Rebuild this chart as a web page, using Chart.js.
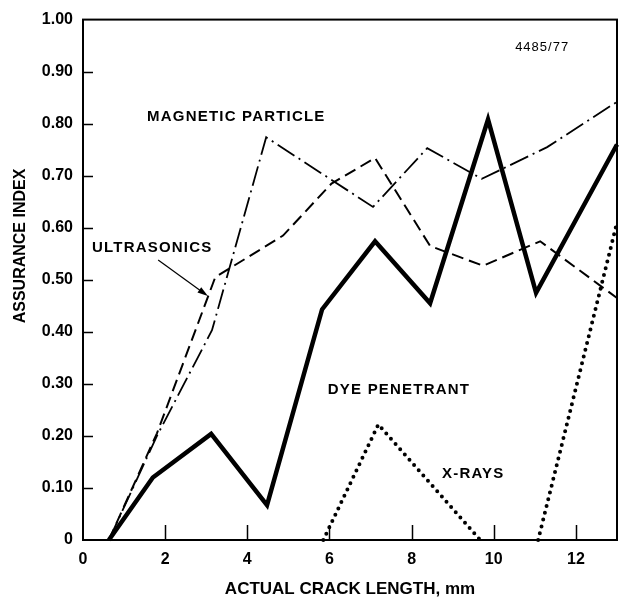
<!DOCTYPE html>
<html>
<head>
<meta charset="utf-8">
<script src="https://cdn.jsdelivr.net/npm/chart.js@4.4.0/dist/chart.umd.min.js"></script>
<style>
  html, body { margin: 0; padding: 0; background: #fff; }
  canvas { display: block; }
</style>
</head>
<body>
<canvas id="grafico" width="626" height="601"></canvas>
<script>
// crack length (mm) / assurance index
const dyeX = [0.63, 1.7, 3.12, 4.48, 5.82, 7.11, 8.45, 9.86, 11.03, 13];
const dyeY = [0, 0.12, 0.204, 0.067, 0.443, 0.574, 0.455, 0.808, 0.475, 0.76];

const ultraX = [0.63, 1.8, 3.22, 4.87, 6.05, 7.11, 8.45, 9.74, 11.13, 13];
const ultraY = [0, 0.205, 0.505, 0.585, 0.685, 0.734, 0.565, 0.527, 0.574, 0.465];

const magX = [0.63, 1.8, 3.14, 4.46, 7.06, 8.38, 9.71, 11.3, 13];
const magY = [0, 0.2, 0.403, 0.774, 0.64, 0.753, 0.694, 0.755, 0.842];

const xray1X = [5.85, 7.19, 9.67];
const xray1Y = [0, 0.222, 0];
const xray2X = [11.08, 13];
const xray2Y = [0, 0.61];

const xTicks = [0, 2, 4, 6, 8, 10, 12];
const yTicks = [0, 0.1, 0.2, 0.3, 0.4, 0.5, 0.6, 0.7, 0.8, 0.9, 1.0];

function pontos(xs, ys) {
  return xs.map(function (x, i) { return { x: x, y: ys[i] }; });
}

const FONTE = "'Liberation Sans', Arial, Helvetica, sans-serif";

// annotations, positioned in data units
const notas = [
  { texto: 'MAGNETIC PARTICLE', x: 1.56, y: 0.814, bold: true },
  { texto: '4485/77', x: 10.52, y: 0.947, bold: false },
  { texto: 'ULTRASONICS', x: 0.22, y: 0.561, bold: true },
  { texto: 'DYE PENETRANT', x: 5.96, y: 0.289, bold: true },
  { texto: 'X-RAYS', x: 8.74, y: 0.127, bold: true }
];
const seta = { de: [1.83, 0.538], para: [3.04, 0.469] };

const moldura = {
  id: 'moldura',
  afterDraw: function (chart) {
    const ctx = chart.ctx;
    const a = chart.chartArea;
    const sx = chart.scales.x;
    const sy = chart.scales.y;
    ctx.save();
    ctx.strokeStyle = '#000';
    ctx.lineWidth = 2;
    ctx.strokeRect(a.left, a.top, a.right - a.left, a.bottom - a.top);

    // inward tick marks
    ctx.lineWidth = 1.5;
    ctx.beginPath();
    yTicks.forEach(function (v) {
      if (v <= 0 || v >= 1) return;
      const py = Math.round(sy.getPixelForValue(v)) + 0.5;
      ctx.moveTo(a.left, py);
      ctx.lineTo(a.left + 10, py);
    });
    xTicks.forEach(function (v) {
      if (v <= 0) return;
      const px = Math.round(sx.getPixelForValue(v)) + 0.5;
      ctx.moveTo(px, a.bottom);
      ctx.lineTo(px, a.bottom - 15);
    });
    ctx.stroke();

    // y axis title
    ctx.fillStyle = '#000';
    ctx.font = 'bold 16px ' + FONTE;
    ctx.textAlign = 'center';
    ctx.textBaseline = 'middle';
    ctx.translate(21, sy.getPixelForValue(0.565));
    ctx.rotate(-Math.PI / 2);
    ctx.fillText('ASSURANCE INDEX', 0, 0);
    ctx.restore();

    // labels and arrow
    ctx.save();
    ctx.fillStyle = '#000';
    ctx.textAlign = 'left';
    ctx.textBaseline = 'middle';
    notas.forEach(function (n) {
      ctx.font = (n.bold ? 'bold 15px ' : '13px ') + FONTE;
      ctx.letterSpacing = n.bold ? '1.2px' : '1px';
      ctx.fillText(n.texto, sx.getPixelForValue(n.x), sy.getPixelForValue(n.y));
    });
    const x1 = sx.getPixelForValue(seta.de[0]), y1 = sy.getPixelForValue(seta.de[1]);
    const x2 = sx.getPixelForValue(seta.para[0]), y2 = sy.getPixelForValue(seta.para[1]);
    const ang = Math.atan2(y2 - y1, x2 - x1);
    ctx.strokeStyle = '#000';
    ctx.lineWidth = 1.2;
    ctx.beginPath();
    ctx.moveTo(x1, y1);
    ctx.lineTo(x2 - 6 * Math.cos(ang), y2 - 6 * Math.sin(ang));
    ctx.stroke();
    ctx.beginPath();
    ctx.moveTo(x2, y2);
    ctx.lineTo(x2 - 11 * Math.cos(ang - 0.3), y2 - 11 * Math.sin(ang - 0.3));
    ctx.lineTo(x2 - 11 * Math.cos(ang + 0.3), y2 - 11 * Math.sin(ang + 0.3));
    ctx.closePath();
    ctx.fill();
    ctx.restore();
  }
};

document.addEventListener("DOMContentLoaded", function () {
  const grafico = document.getElementById("grafico");
  new Chart(grafico, {
    type: 'line',
    data: {
      datasets: [
        {
          label: 'Dye penetrant',
          data: pontos(dyeX, dyeY),
          borderColor: '#000',
          borderWidth: 4.5,
          borderJoinStyle: 'miter'
        },
        {
          label: 'Ultrasonics',
          data: pontos(ultraX, ultraY),
          borderColor: '#000',
          borderWidth: 2,
          borderDash: [12, 6]
        },
        {
          label: 'Magnetic particle',
          data: pontos(magX, magY),
          borderColor: '#000',
          borderWidth: 1.8,
          borderDash: [20, 5, 2, 5]
        },
        {
          label: 'X-rays',
          data: pontos(xray1X, xray1Y),
          borderColor: '#000',
          borderWidth: 4,
          borderDash: [0, 7],
          borderCapStyle: 'round'
        },
        {
          label: 'X-rays ',
          data: pontos(xray2X, xray2Y),
          borderColor: '#000',
          borderWidth: 4,
          borderDash: [0, 7],
          borderCapStyle: 'round'
        }
      ]
    },
    options: {
      responsive: false,
      animation: false,
      clip: false,
      elements: { point: { radius: 0 }, line: { tension: 0 } },
      layout: { padding: { top: 14, right: 9, bottom: 0, left: 0 } },
      plugins: { legend: { display: false }, tooltip: { enabled: false } },
      scales: {
        x: {
          type: 'linear',
          min: 0,
          max: 13,
          afterFit: function (scale) { scale.height = 61; },
          afterBuildTicks: function (scale) {
            scale.ticks = xTicks.map(function (v) { return { value: v }; });
          },
          grid: { display: false, drawTicks: false },
          border: { display: false },
          ticks: {
            color: '#000',
            padding: 10,
            maxRotation: 0,
            font: { family: FONTE, size: 16, weight: 'bold' },
            callback: function (v) { return String(v); }
          },
          title: {
            display: true,
            text: 'ACTUAL CRACK LENGTH, mm',
            color: '#000',
            padding: { top: 0, bottom: 1 },
            font: { family: FONTE, size: 17, weight: 'bold' }
          }
        },
        y: {
          min: 0,
          max: 1,
          afterFit: function (scale) { scale.width = 83; },
          afterBuildTicks: function (scale) {
            scale.ticks = yTicks.map(function (v) { return { value: v }; });
          },
          grid: { display: false, drawTicks: false },
          border: { display: false },
          ticks: {
            color: '#000',
            padding: 10,
            font: { family: FONTE, size: 16, weight: 'bold' },
            callback: function (v) { return v === 0 ? '0' : v.toFixed(2); }
          }
        }
      }
    },
    plugins: [moldura]
  });
});
</script>
</body>
</html>
